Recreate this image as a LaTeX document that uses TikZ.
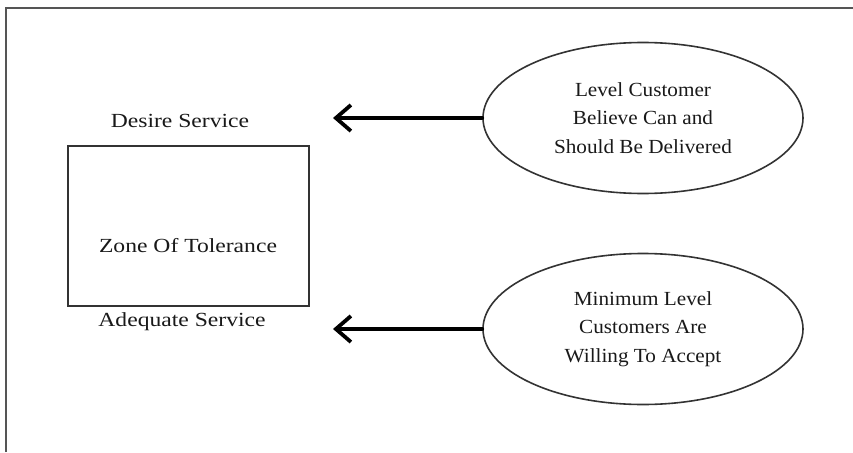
\documentclass[tikz,border=0pt]{standalone}
\usepackage{fontspec}
\setmainfont{Liberation Serif}
\newfontfamily\leftfont{Liberation Serif}[FakeStretch=1.18]
\newfontfamily\ellfont{Liberation Serif}[FakeStretch=1.06]
\usetikzlibrary{arrows.meta,shapes.geometric}
\definecolor{linegray}{HTML}{333333}
\definecolor{framegray}{HTML}{555555}
\begin{document}
\begin{tikzpicture}[x=1pt,y=-1pt,
  lbl/.style={inner sep=0pt,font=\leftfont\fontsize{20}{24}\selectfont,text=black!90},
  zone/.style={draw=linegray,line width=1.8pt,minimum width=241pt,minimum height=160pt,inner sep=0pt},
  oval/.style={ellipse,draw=linegray,line width=1.6pt,minimum width=320pt,minimum height=151pt,inner sep=0pt,
    align=center,font=\ellfont\fontsize{20}{28.5}\selectfont,text=black!90},
  bigarrow/.style={line width=3.8pt,-{Straight Barb[length=15pt,width=26pt]},line cap=round}]
\useasboundingbox (0,0) rectangle (853,452);
\draw[framegray,line width=1.8pt] (6,452) -- (6,8) -- (853,8);
\node[zone] (box) at (188.5,226) {};
\node[lbl] (zt) at (188,246) {Zone Of Tolerance};
\node[lbl] (ds) at (180,121) {Desire Service};
\node[lbl] (as) at (182,322) {Adequate Service};
\node[oval] (e1) at (643,118) {Level Customer\\Believe Can and\\Should Be Delivered};
\node[oval] (e2) at (643,329) {Minimum Level\\Customers Are\\Willing To Accept};
\coordinate (t1) at (333,118);
\coordinate (t2) at (333,329);
\draw[bigarrow] (e1.west) -- (t1);
\draw[bigarrow] (e2.west) -- (t2);
\end{tikzpicture}
\end{document}
